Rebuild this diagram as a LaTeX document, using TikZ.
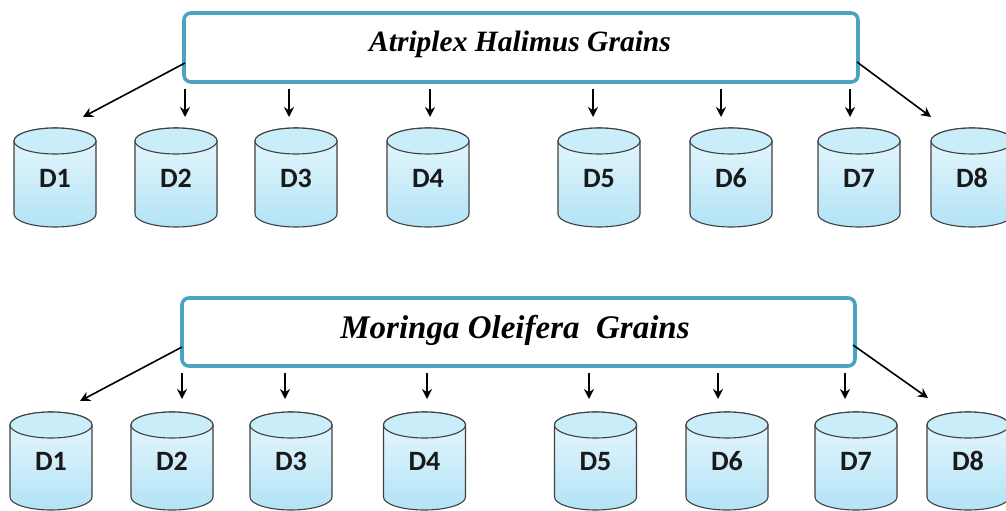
\documentclass[tikz,border=0pt]{standalone}
\usepackage{fontspec}
\setmainfont{Liberation Serif}
\newfontfamily\lblfont{Carlito}
\usetikzlibrary{arrows.meta}
\definecolor{boxline}{HTML}{4AA3C2}
\definecolor{cyltop}{HTML}{EAF8FD}
\definecolor{cylbot}{HTML}{B2E3F6}
\definecolor{cylend}{HTML}{C9EDF9}
\definecolor{cylline}{HTML}{404040}
\tikzset{
  titlebox/.style={draw=boxline, line width=3.6pt, rounded corners=7pt, fill=white},
  conn/.style={draw=black, line width=1.6pt, -{Stealth[length=10pt,width=10pt]}},
  cyllabel/.style={font=\lblfont\bfseries\fontsize{28}{30}\selectfont, text=black!90, inner sep=0pt, anchor=base},
  titletext/.style={inner sep=0pt, text=black}
}
\begin{document}
\begin{tikzpicture}[x=1pt,y=-1pt]
\useasboundingbox (0,0) rectangle (1006,511);
\clip (0,0) rectangle (1006,511);
% ---------- boxes ----------
\draw[titlebox] (184,13) rectangle (858,82);
\node[titletext, font=\bfseries\itshape\fontsize{29.5}{32}\selectfont] (t1) at (520,44) {Atriplex Halimus Grains};
\draw[titlebox] (182,298) rectangle (855,366);
\node[titletext, font=\bfseries\itshape\fontsize{33}{35}\selectfont] (t2) at (515,330) {Moringa Oleifera\hspace{0.25em} Grains};
% ---------- cylinders ----------
\foreach \cx [count=\i] in {55,176,296,428,599,731,859,972} {
  \shade[top color=cyltop, bottom color=cylbot, draw=cylline, line width=1.1pt]
    (\cx-41,141) -- (\cx-41,214) arc[start angle=180, end angle=0, x radius=41, y radius=13]
    -- (\cx+41,141) arc[start angle=0, end angle=-180, x radius=41, y radius=13] -- cycle;
  \draw[fill=cylend, draw=cylline, line width=1.1pt] (\cx,141) ellipse[x radius=41, y radius=13];
  \node[cyllabel] (a\i) at (\cx,187) {D\i};
}
\foreach \cx [count=\i] in {51,172,291,424.5,595.5,727,856,968} {
  \shade[top color=cyltop, bottom color=cylbot, draw=cylline, line width=1.1pt]
    (\cx-41,425) -- (\cx-41,497) arc[start angle=180, end angle=0, x radius=41, y radius=13]
    -- (\cx+41,425) arc[start angle=0, end angle=-180, x radius=41, y radius=13] -- cycle;
  \draw[fill=cylend, draw=cylline, line width=1.1pt] (\cx,425) ellipse[x radius=41, y radius=13];
  \node[cyllabel] (m\i) at (\cx,470) {D\i};
}
% ---------- arrows (top) ----------
\coordinate (s1) at (185,63);  \coordinate (e1) at (83,117);
\coordinate (s8) at (857,62);  \coordinate (e8) at (931,117);
\foreach \x [count=\k from 2] in {185,289,430,593,721,850} {
  \coordinate (s\k) at (\x,89);
  \coordinate (e\k) at (\x,117);
}
\foreach \k in {1,...,8} { \draw[conn] (s\k) -- (e\k); }
% ---------- arrows (bottom) ----------
\coordinate (u1) at (182,347);  \coordinate (v1) at (80,401);
\coordinate (u8) at (853,345);  \coordinate (v8) at (928,398);
\foreach \x [count=\k from 2] in {182,285,427,589,718,845} {
  \coordinate (u\k) at (\x,373);
  \coordinate (v\k) at (\x,399);
}
\foreach \k in {1,...,8} { \draw[conn] (u\k) -- (v\k); }
\end{tikzpicture}
\end{document}
